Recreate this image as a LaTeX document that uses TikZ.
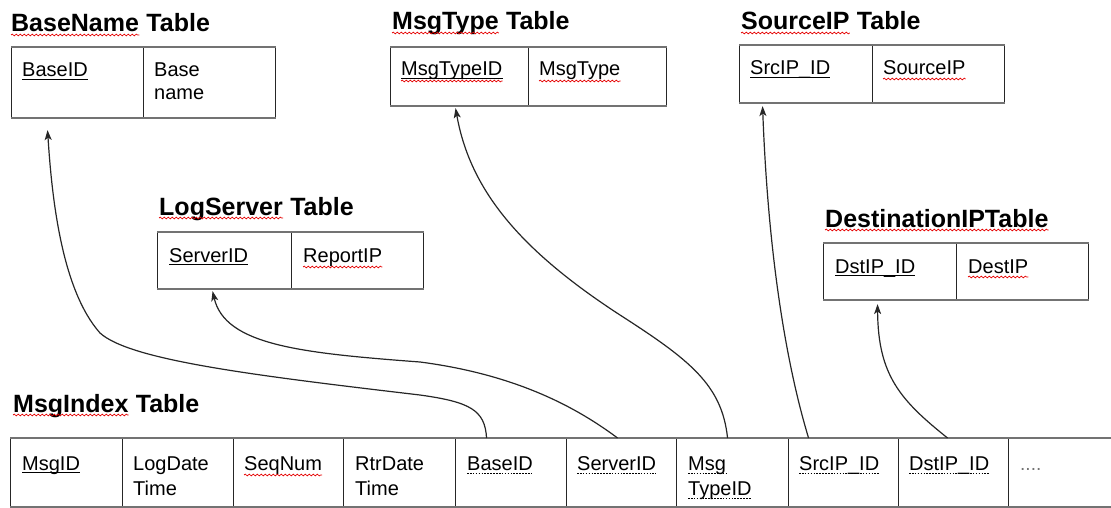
\documentclass[tikz,border=0pt]{standalone}
\usepackage{fontspec}
\setmainfont{Liberation Sans}
\usetikzlibrary{arrows.meta,decorations.pathmorphing}

\tikzset{
  cell/.style 2 args={draw=black!85, line width=1.1pt, rectangle, inner sep=0pt,
    anchor=north west, minimum width=#1, minimum height=#2},
  hline/.style={draw=black!55, line width=2.2pt},
  ttl/.style={anchor=base west, inner sep=0pt, font=\fontsize{25}{30}\selectfont\bfseries},
  fld/.style={anchor=base west, inner sep=0pt, font=\fontsize{20}{24}\selectfont},
  pkline/.style={draw=black, line width=0.9pt},
  fkline/.style={draw=black, line width=0.9pt, dash pattern=on 1.6pt off 1.3pt},
  wavy/.style={draw=red!90!black, line width=0.7pt, decorate,
    decoration={snake, amplitude=0.9pt, segment length=4pt}},
  link/.style={draw=black!85, line width=1.2pt,
    -{Stealth[length=10pt,width=7pt,inset=2.5pt]}}
}

\begin{document}
\begin{tikzpicture}[x=1pt, y=-1pt]
\useasboundingbox (0,0) rectangle (1111,508);

% ---------- BaseName table ----------
\node[ttl] (bnA) at (11,32) {BaseName};
\node[ttl] (bnB) at ([xshift=7]bnA.base east) {Table};
\node[cell={132}{70}] (bn1) at (11,47) {};
\node[cell={132}{70}] (bn2) at (143,47) {};
\draw[hline] (bn1.north west) -- (bn2.north east);
\draw[hline] (bn1.south west) -- (bn2.south east);
\node[fld] (bn1t) at ([xshift=11,yshift=-30]bn1.north west) {BaseID};
\node[fld] (bn2t) at ([xshift=11,yshift=-30]bn2.north west) {Base};
\node[fld] (bn2u) at ([yshift=-23]bn2t.base west) {name};
\draw[wavy] ([yshift=-3]bnA.base west) -- ([yshift=-3]bnA.base east);
\draw[pkline] ([yshift=-2]bn1t.base west) -- ([yshift=-2]bn1t.base east);

% ---------- MsgType table ----------
\node[ttl] (mtA) at (392,30) {MsgType};
\node[ttl] (mtB) at ([xshift=7]mtA.base east) {Table};
\node[cell={138}{58}] (mt1) at (390,47) {};
\node[cell={138}{58}] (mt2) at (528,47) {};
\draw[hline] (mt1.north west) -- (mt2.north east);
\draw[hline] (mt1.south west) -- (mt2.south east);
\node[fld] (mt1t) at ([xshift=11,yshift=-29]mt1.north west) {MsgTypeID};
\node[fld] (mt2t) at ([xshift=11,yshift=-29]mt2.north west) {MsgType};
\draw[wavy] ([yshift=-3]mtA.base west) -- ([yshift=-3]mtA.base east);
\draw[pkline] ([yshift=-2]mt1t.base west) -- ([yshift=-2]mt1t.base east);
\draw[wavy] ([yshift=-5]mt1t.base west) -- ([yshift=-5]mt1t.base east);
\draw[wavy] ([yshift=-5]mt2t.base west) -- ([yshift=-5]mt2t.base east);

% ---------- SourceIP table ----------
\node[ttl] (spA) at (741,30) {SourceIP};
\node[ttl] (spB) at ([xshift=7]spA.base east) {Table};
\node[cell={133}{57}] (sp1) at (739,45) {};
\node[cell={132}{57}] (sp2) at (872,45) {};
\draw[hline] (sp1.north west) -- (sp2.north east);
\draw[hline] (sp1.south west) -- (sp2.south east);
\node[fld] (sp1t) at ([xshift=11,yshift=-30]sp1.north west) {SrcIP\_ID};
\node[fld] (sp2t) at ([xshift=11,yshift=-30]sp2.north west) {SourceIP};
\draw[wavy] ([yshift=-3]spA.base west) -- ([yshift=-3]spA.base east);
\draw[pkline] ([yshift=-2]sp1t.base west) -- ([yshift=-2]sp1t.base east);
\draw[wavy] ([yshift=-4]sp2t.base west) -- ([yshift=-4]sp2t.base east);

% ---------- LogServer table ----------
\node[ttl] (lsA) at (159,215) {LogServer};
\node[ttl] (lsB) at ([xshift=7]lsA.base east) {Table};
\node[cell={134}{56}] (ls1) at (157,232) {};
\node[cell={132}{56}] (ls2) at (291,232) {};
\draw[hline] (ls1.north west) -- (ls2.north east);
\draw[hline] (ls1.south west) -- (ls2.south east);
\node[fld] (ls1t) at ([xshift=12,yshift=-30]ls1.north west) {ServerID};
\node[fld] (ls2t) at ([xshift=12,yshift=-30]ls2.north west) {ReportIP};
\draw[wavy] ([yshift=-3]lsA.base west) -- ([yshift=-3]lsA.base east);
\draw[pkline] ([yshift=-2]ls1t.base west) -- ([yshift=-2]ls1t.base east);
\draw[wavy] ([yshift=-5]ls2t.base west) -- ([yshift=-5]ls2t.base east);

% ---------- DestinationIP table ----------
\node[ttl] (dpA) at (825,227) {DestinationIPTable};
\node[cell={133}{56}] (dp1) at (823,243) {};
\node[cell={132}{56}] (dp2) at (956,243) {};
\draw[hline] (dp1.north west) -- (dp2.north east);
\draw[hline] (dp1.south west) -- (dp2.south east);
\node[fld] (dp1t) at ([xshift=12,yshift=-30]dp1.north west) {DstIP\_ID};
\node[fld] (dp2t) at ([xshift=12,yshift=-30]dp2.north west) {DestIP};
\draw[wavy] ([yshift=-3]dpA.base west) -- ([yshift=-3]dpA.base east);
\draw[pkline] ([yshift=-2]dp1t.base west) -- ([yshift=-2]dp1t.base east);
\draw[wavy] ([yshift=-4]dp2t.base west) -- ([yshift=-4]dp2t.base east);

% ---------- MsgIndex table ----------
\node[ttl] (ixA) at (13,412) {MsgIndex};
\node[ttl] (ixB) at ([xshift=7]ixA.base east) {Table};
\node[cell={112}{68}] (ix1) at (10,438) {};
\node[cell={111}{68}] (ix2) at (122,438) {};
\node[cell={110}{68}] (ix3) at (233,438) {};
\node[cell={112}{68}] (ix4) at (343,438) {};
\node[cell={111}{68}] (ix5) at (455,438) {};
\node[cell={110}{68}] (ix6) at (566,438) {};
\node[cell={112}{68}] (ix7) at (676,438) {};
\node[cell={110}{68}] (ix8) at (788,438) {};
\node[cell={110}{68}] (ix9) at (898,438) {};
\node[cell={103}{68}, draw=none] (ix10) at (1008,438) {};
\draw[hline] (ix1.north west) -- (ix10.north east);
\draw[hline] (ix1.south west) -- (ix10.south east);
\draw[wavy] ([yshift=-3]ixA.base west) -- ([yshift=-3]ixA.base east);

\node[fld] (ix1t) at ([xshift=12,yshift=-32]ix1.north west) {MsgID};
\node[fld] (ix2t) at ([xshift=11,yshift=-32]ix2.north west) {LogDate};
\node[fld] (ix2u) at ([yshift=-25]ix2t.base west) {Time};
\node[fld] (ix3t) at ([xshift=11,yshift=-32]ix3.north west) {SeqNum};
\node[fld] (ix4t) at ([xshift=12,yshift=-32]ix4.north west) {RtrDate};
\node[fld] (ix4u) at ([yshift=-25]ix4t.base west) {Time};
\node[fld] (ix5t) at ([xshift=12,yshift=-32]ix5.north west) {BaseID};
\node[fld] (ix6t) at ([xshift=11,yshift=-32]ix6.north west) {ServerID};
\node[fld] (ix7t) at ([xshift=12,yshift=-32]ix7.north west) {Msg};
\node[fld] (ix7u) at ([yshift=-25]ix7t.base west) {TypeID};
\node[fld] (ix8t) at ([xshift=11,yshift=-32]ix8.north west) {SrcIP\_ID};
\node[fld] (ix9t) at ([xshift=11,yshift=-32]ix9.north west) {DstIP\_ID};
\node[fld, font=\fontsize{19}{22}\selectfont, text=black!55] (ix10t)
  at ([xshift=12,yshift=-32]ix10.north west) {....};

\draw[pkline] ([yshift=-2]ix1t.base west) -- ([yshift=-2]ix1t.base east);
\draw[wavy] ([yshift=-5]ix3t.base west) -- ([yshift=-5]ix3t.base east);
\foreach \f in {ix5t,ix6t,ix7t,ix7u,ix8t,ix9t}
  \draw[fkline] ([yshift=-3]\f.base west) -- ([yshift=-3]\f.base east);

% ---------- foreign key links ----------
\draw[link] ([xshift=-24.5]ix5.north)
  .. controls (485,410) and (470,402) .. (420,395)
  .. controls (250,375) and (130,360) .. (100,333)
  .. controls (62,290) and (52,200) .. ([xshift=-30,yshift=-12]bn1.south);
\draw[link] ([xshift=-4]ix6.north)
  .. controls (580,410) and (520,375) .. (420,362)
  .. controls (300,353) and (225,345) .. ([xshift=-12,yshift=-2]ls1.south);
\draw[link] ([xshift=-5]ix7.north)
  .. controls (722,385) and (690,360) .. (620,315)
  .. controls (520,250) and (470,190) .. ([xshift=-4,yshift=-2]mt1.south);
\draw[link] ([xshift=-35]ix8.north)
  .. controls (785,360) and (768,250) .. ([xshift=-43.5,yshift=-3]sp1.south);
\draw[link] ([xshift=-6]ix9.north)
  .. controls (900,400) and (878,375) .. ([xshift=-12.5,yshift=-4]dp1.south);
\end{tikzpicture}
\end{document}
